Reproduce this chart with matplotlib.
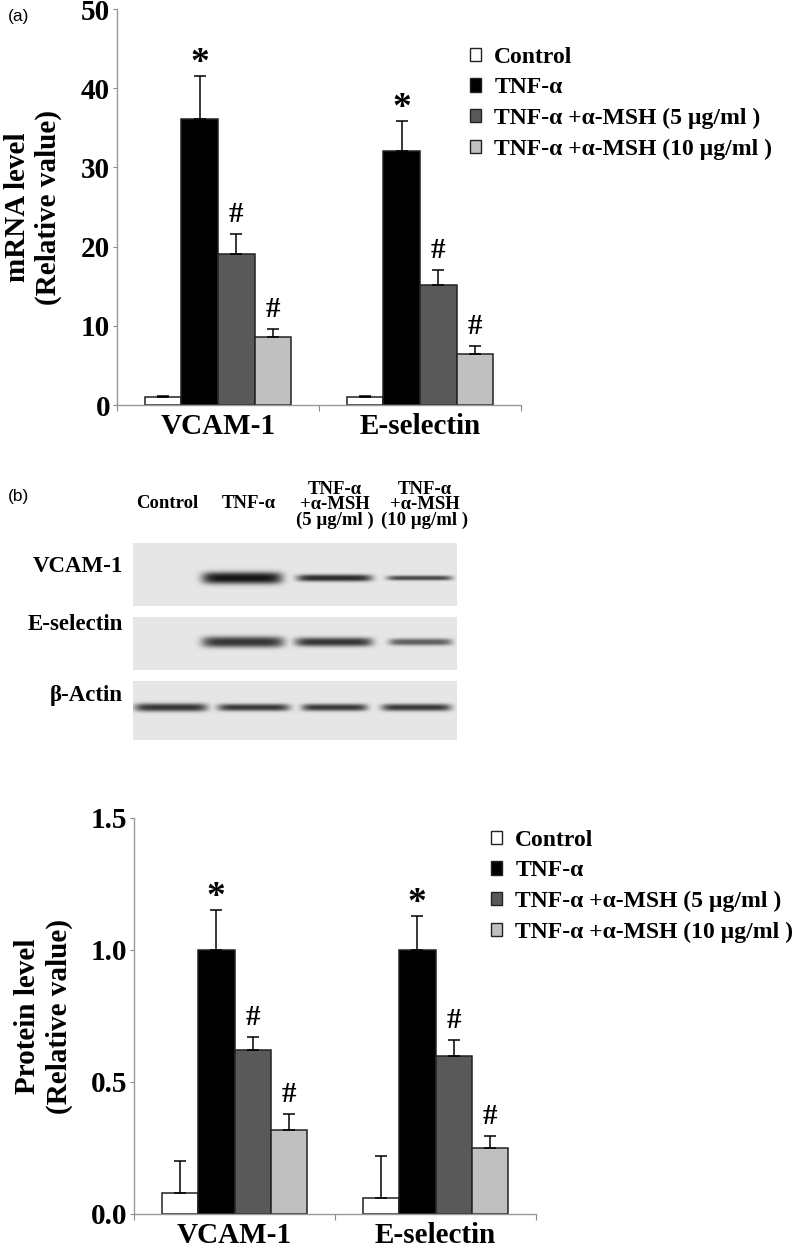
import numpy as np
import matplotlib
matplotlib.use("Agg")
import matplotlib.pyplot as plt
from matplotlib.patches import Patch
from matplotlib import transforms

plt.rcParams['font.family'] = ['Liberation Serif', 'DejaVu Serif']
plt.rcParams['font.weight'] = 'bold'

# data
targets = ["VCAM-1", "E-selectin"]
groups = ["Control", "TNF-α", "TNF-α +α-MSH (5 µg/ml )", "TNF-α +α-MSH (10 µg/ml )"]
colors = ["white", "black", "#595959", "#c0c0c0"]
marks = ["", "*", "#", "#"]

mrna_vcam = [1.0, 36.1, 19.1, 8.6]
mrna_vcam_err = [0.15, 5.4, 2.5, 1.0]
mrna_esel = [1.0, 32.1, 15.1, 6.5]
mrna_esel_err = [0.15, 3.8, 1.9, 0.9]

prot_vcam = [0.08, 1.0, 0.62, 0.32]
prot_vcam_err = [0.12, 0.15, 0.05, 0.06]
prot_esel = [0.06, 1.0, 0.60, 0.25]
prot_esel_err = [0.16, 0.13, 0.06, 0.045]

# western blot bands (lanes: Control, TNF, 5, 10)
blot_rows = ["VCAM-1", "E-selectin", "β-Actin"]
band_vcam = [0.0, 1.0, 0.9, 0.75]
thick_vcam = [0, 12, 7, 5]
width_vcam = [0, 0.98, 0.92, 0.8]
pos_vcam = [0, 0.87, 2.0, 3.04]
band_esel = [0.0, 0.85, 0.85, 0.65]
thick_esel = [0, 11, 9, 7]
width_esel = [0, 1.0, 0.95, 0.77]
pos_esel = [0, 0.88, 1.99, 3.05]
band_actin = [0.85, 0.85, 0.85, 0.85]
thick_actin = [8, 7, 7, 7]
width_actin = [0.89, 0.88, 0.8, 0.85]
pos_actin = [0, 1.01, 2.0, 3.0]
lane_headers = ["Control", "TNF-α", "TNF-α\n+α-MSH\n(5 µg/ml )", "TNF-α\n+α-MSH\n(10 µg/ml )"]

W, H = 800, 1250
fig = plt.figure(figsize=(8, 12.5), dpi=100)


def rect(x0, y0, x1, y1):
    return [x0 / W, 1 - y1 / H, (x1 - x0) / W, (y1 - y0) / H]


def bar_panel(box, ylim, yticks, fmt, ylabel, vals, errs, label_x):
    ax = fig.add_axes(box)
    bw = 0.181
    for j in range(4):
        xs = np.arange(2) + (j - 1.5) * bw
        hs = [v[j] for v in vals]
        es = [e[j] for e in errs]
        ax.bar(xs, hs, bw, color=colors[j], edgecolor="#222222", linewidth=1.1, zorder=2)
        ax.errorbar(xs, hs, yerr=[np.zeros(2), es], fmt='none', ecolor='black',
                    elinewidth=1.1, capsize=4, capthick=1.1, zorder=3)
        if marks[j]:
            star = marks[j] == "*"
            for x, h, e in zip(xs, hs, es):
                ax.annotate(marks[j], (x, h + e), xytext=(0, 9 if star else 14),
                            textcoords='offset points', ha='center', va='center',
                            fontsize=27 if star else 21, fontweight='bold')
    ax.set_xlim(-0.5, 1.5)
    ax.set_ylim(*ylim)
    ax.set_yticks(yticks)
    ax.set_yticklabels([fmt % t for t in yticks], fontsize=21, fontweight='bold')
    ax.set_xticks([-0.5, 0.5, 1.5])
    ax.set_xticklabels([])
    ax.set_xticks([0, 1], minor=True)
    ax.set_xticklabels(targets, minor=True, fontsize=21, fontweight='bold')
    ax.tick_params(axis='x', which='minor', length=0, pad=6)
    ax.tick_params(axis='x', which='major', length=4, color='#888888', direction='out')
    ax.tick_params(axis='y', length=3, color='#888888', pad=2)
    for s in ['top', 'right']:
        ax.spines[s].set_visible(False)
    for s in ['left', 'bottom']:
        ax.spines[s].set_color('#999999')
        ax.spines[s].set_linewidth(1)
    ax.set_ylabel(ylabel, fontsize=21, fontweight='bold')
    ax.yaxis.set_label_coords(label_x, 0.5)
    return ax


ax1 = bar_panel(rect(117, 9, 521, 405), (0, 50), [0, 10, 20, 30, 40, 50], "%d",
                "mRNA level\n(Relative value)", [mrna_vcam, mrna_esel], [mrna_vcam_err, mrna_esel_err],
                -0.136)
ax2 = bar_panel(rect(134, 818, 536, 1214), (0, 1.5), [0.0, 0.5, 1.0, 1.5], "%.1f",
                "Protein level\n(Relative value)", [prot_vcam, prot_esel], [prot_vcam_err, prot_esel_err],
                -0.152)

handles = [Patch(facecolor=c, edgecolor="#222222", linewidth=1) for c in colors]
for (lx, ly) in [(470, 47), (491, 830)]:
    fig.legend(handles, groups, loc='upper left', bbox_to_anchor=(lx / W, 1 - ly / H),
               frameon=False, prop={'weight': 'bold', 'size': 17},
               handlelength=0.48, handleheight=0.48, handletextpad=0.55,
               labelspacing=0.4, borderpad=0, borderaxespad=0)

fig.text(8 / W, 1 - 17 / H, "(a)", fontsize=12.5, family='Liberation Sans', fontweight='normal',
         va='center', ha='left')
fig.text(8 / W, 1 - 497 / H, "(b)", fontsize=12.5, family='Liberation Sans', fontweight='normal',
         va='center', ha='left')

# western blot panels
xlim = (-0.46, 3.49)
panels = [(543, 606, 35, band_vcam, thick_vcam, width_vcam, pos_vcam, 567),
          (617, 670, 25, band_esel, thick_esel, width_esel, pos_esel, 625),
          (681, 740, 27, band_actin, thick_actin, width_actin, pos_actin, 695)]
bg = 0.90
blot_axes = []
for (y0, y1, cy, bands, thick, widths, pos, ty), name in zip(panels, blot_rows):
    bax = fig.add_axes(rect(133, y0, 457, y1))
    hh = y1 - y0
    xs = np.linspace(xlim[0], xlim[1], 324)
    ys = np.arange(hh) + 0.5
    dark = np.zeros((hh, 324))
    for a, t, w, p in zip(bands, thick, widths, pos):
        if a == 0:
            continue
        px = np.exp(-np.abs((xs - p) / (w / 2)) ** 8)
        py = np.exp(-np.abs((ys - cy) / (t / 2)) ** 2.5)
        dark = np.maximum(dark, a * np.outer(py, px))
    img = bg * (1 - 0.9 * dark)
    bax.imshow(img, cmap='gray', vmin=0, vmax=1, extent=(xlim[0], xlim[1], hh, 0),
               aspect='auto', interpolation='bilinear')
    bax.set_xlim(*xlim)
    bax.axis('off')
    blot_axes.append(bax)
    fig.text(123 / W, 1 - ty / H, name, fontsize=16.5, fontweight='bold', ha='right', va='center')

tr = transforms.blended_transform_factory(blot_axes[0].transData, fig.transFigure)
header_y = [504, 504, 505, 505]
header_dx = [-0.04, -0.05, 0.0, 0.1]
for i, (txt, yy, dx) in enumerate(zip(lane_headers, header_y, header_dx)):
    fig.text(i + dx, 1 - yy / H, txt, transform=tr, fontsize=13.5, fontweight='bold',
             ha='center', va='center', linespacing=0.85)

fig.savefig("out.png", dpi=100, facecolor='white')
